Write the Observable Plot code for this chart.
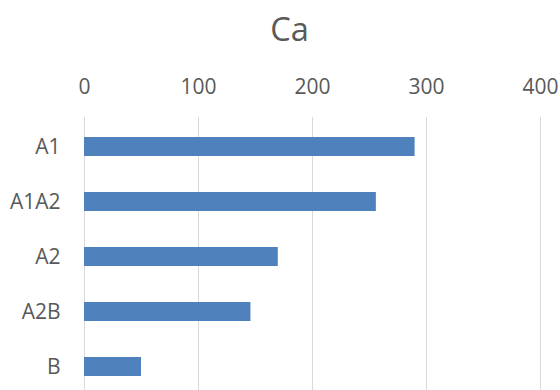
<!DOCTYPE html>
<html>
<head>
<meta charset="utf-8">
<script src="https://cdn.jsdelivr.net/npm/d3@7"></script>
<script src="https://cdn.jsdelivr.net/npm/@observablehq/plot@0.6"></script>
<style>
  html, body { margin: 0; padding: 0; background: #fff; overflow: hidden; }
  #wrap { width: 560px; height: 390px; position: relative; font-family: "Open Sans", sans-serif; }
  #title {
    height: 58px; line-height: 58px; padding-left: 19px;
    text-align: center; font-size: 32.6px; color: #595959;
  }
</style>
</head>
<body>
<div id="wrap">
  <div id="title">Ca</div>
  <div id="chart"></div>
</div>
<script>
// Ca content per sample group
const categories = ["A1", "A1A2", "A2", "A2B", "B"];
const values = [290, 256, 170, 146, 50];
const xTicks = [0, 100, 200, 300, 400];

const data = categories.map((c, i) => ({category: c, value: values[i]}));

const chart = Plot.plot({
  width: 560,
  height: 332,
  marginLeft: 84,
  marginRight: 20,
  marginTop: 58.8,
  marginBottom: -6,
  style: {fontFamily: "Open Sans, sans-serif", fontSize: "21px", color: "#595959", background: "#fff", overflow: "hidden"},
  x: {domain: [0, 400], axis: null},
  y: {domain: categories, paddingInner: 0.65, paddingOuter: 0.325, axis: null},
  marks: [
    Plot.gridX(xTicks, {stroke: "#d9d9d9", strokeOpacity: 1, strokeWidth: 1}),
    Plot.barX(data, {x: "value", y: "category", fill: "#4f81bd"}),
    Plot.axisX(xTicks, {anchor: "top", label: null, tickSize: 0, tickPadding: 23, fill: "#595959", fontSize: 21}),
    Plot.axisY({anchor: "left", label: null, tickSize: 0, tickPadding: 24, fill: "#595959", fontSize: 21})
  ]
});
document.getElementById("chart").appendChild(chart);
</script>
</body>
</html>
